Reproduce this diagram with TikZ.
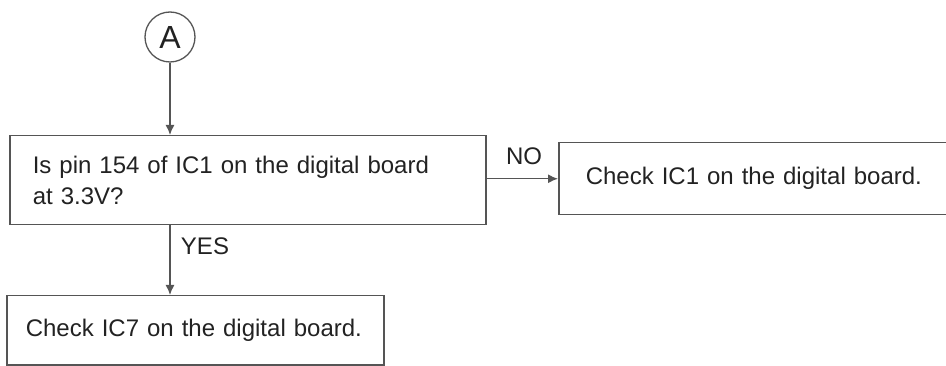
\documentclass[tikz,border=0pt]{standalone}
\usepackage{fontspec}
\setmainfont{Liberation Sans}
\usetikzlibrary{arrows.meta}
\definecolor{linegray}{HTML}{555555}
\definecolor{textgray}{HTML}{222222}
\begin{document}
\begin{tikzpicture}[x=1pt,y=-1pt,
  every node/.style={text=textgray,font=\fontsize{24}{31}\selectfont},
  stepbox/.style={draw=linegray,line width=1.5pt,rectangle,anchor=north west,
    align=left,inner ysep=0pt},
  conn/.style={draw=linegray,line width=1.4pt,-{Latex[length=10pt,width=9pt]}},
  lbl/.style={inner sep=0pt}]
  \useasboundingbox (0,0) rectangle (946,366);
  % entry connector
  \node[draw=linegray,line width=1.3pt,circle,minimum size=50pt,inner sep=0pt,
        font=\fontsize{32}{32}\selectfont] (A) at (170,37) {A};
  % question and outcomes
  \node[stepbox,minimum height=89pt,inner xsep=23pt,text width=430pt] (q) at (9,135)
    {Is pin 154 of IC1 on the digital board\\at 3.3V?};
  \node[stepbox,minimum height=72pt,inner xsep=27pt,text width=356pt] (no) at (558,142)
    {Check IC1 on the digital board.};
  \node[stepbox,minimum height=69pt,inner xsep=19pt,text width=339pt] (yes) at (6,295)
    {Check IC7 on the digital board.};
  % connectors
  \draw[conn] (A.south) -- (A.south |- q.north);
  \draw[conn] (q.east |- no.west) -- (no.west);
  \draw[conn] (A.south |- q.south) -- (A.south |- yes.north);
  \node[lbl] (nolbl) at (524,156) {NO};
  \node[lbl] (yeslbl) at (205,246) {YES};
\end{tikzpicture}
\end{document}
